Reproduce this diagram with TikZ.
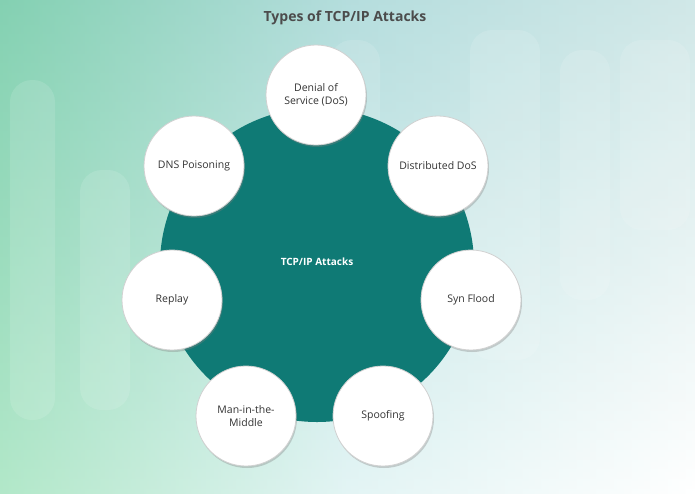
\documentclass[tikz,border=0pt]{standalone}
\usepackage{fontspec}
\setmainfont{Open Sans}
\usetikzlibrary{shadows}
\definecolor{core}{HTML}{0F7A75}
\begin{document}
\begin{tikzpicture}[x=1pt,y=-1pt,
  item/.style={circle,draw=black!18,line width=0.8pt,fill=white,minimum size=100pt,align=center,font=\fontsize{10.5}{13}\selectfont,text=black!80,drop shadow={opacity=0.35,shadow xshift=1pt,shadow yshift=-2pt}},
  bar/.style={rounded corners=22pt,fill=white,opacity=0.12}]
\useasboundingbox (0,0) rectangle (695,493);
\shade[left color=teal!60!green!55,right color=white,middle color=cyan!25!teal!20] (0,0) rectangle (695,493);
\shade[top color=teal!40,bottom color=white,opacity=0.45] (0,0) rectangle (695,493);
\fill[bar] (10,80) rectangle (55,420);
\fill[bar] (80,170) rectangle (130,410);
\fill[bar] (330,40) rectangle (380,200);
\fill[bar] (470,30) rectangle (540,360);
\fill[bar] (560,50) rectangle (610,300);
\fill[bar] (620,40) rectangle (690,230);
\node[font=\bfseries\fontsize{14}{16}\selectfont,text=black!70] (title) at (345,18) {Types of TCP/IP Attacks};
\node[circle,fill=core,minimum size=314pt] (c) at (317,265) {};
\node[text=white,font=\bfseries\fontsize{10}{12}\selectfont] (ct) at (317,262) {TCP/IP Attacks};
\node[item] (a) at (316,95) {Denial of\\Service (DoS)};
\node[item] (b) at (438,166) {Distributed DoS};
\node[item] (d) at (471,300) {Syn Flood};
\node[item] (e) at (383,416) {Spoofing};
\node[item] (f) at (246,416) {Man-in-the-\\Middle};
\node[item] (g) at (172,300) {Replay};
\node[item] (h) at (194,166) {DNS Poisoning};
\end{tikzpicture}
\end{document}
